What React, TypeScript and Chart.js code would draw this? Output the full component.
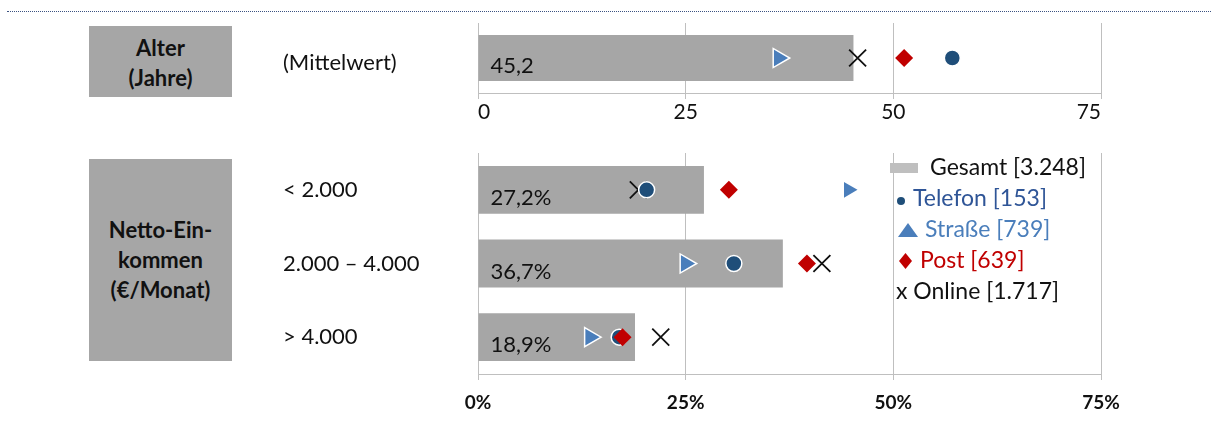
import React, { useEffect, useRef } from "react";
import { Chart, registerables } from "chart.js";

Chart.register(...registerables);

const FONT = "Lato, 'Open Sans', sans-serif";

// Alter (Mittelwert in Jahren)
const ageCategories = ["(Mittelwert)"];
const ageTotal = [45.2];
const ageTelefon = [57.1];
const ageStrasse = [36.2];
const agePost = [51.3];
const ageOnline = [45.7];
const ageTicks = [0, 25, 50, 75];

// Netto-Einkommen (Anteil in %)
const incomeCategories = ["< 2.000", "2.000 – 4.000", "> 4.000"];
const incomeTotal = [27.2, 36.7, 18.9];
const incomeTelefon = [20.3, 30.8, 17.0];
const incomeStrasse = [44.6, 25.0, 13.5];
const incomePost = [30.2, 39.6, 17.4];
const incomeOnline = [19.3, 41.4, 22.0];
const incomeTicks = [0, 25, 50, 75];

// Legend: group names and sample sizes
const groupNames = ["Gesamt", "Telefon", "Straße", "Post", "Online"];
const groupCounts = [3248, 153, 739, 639, 1717];

const GREY_BAR = "#A6A6A6";
const GREY_KEY = "#BFBFBF";
const GRID = "#BFBFBF";
const TEL = "#1F4E79";
const TEL_TEXT = "#2F5597";
const STR = "#4A7EBB";
const POST = "#C00000";
const INK = "#111111";

const thousands = (n: number) => String(n).replace(/\B(?=(\d{3})+(?!\d))/g, ".");
const decimal = (v: number) => v.toFixed(1).replace(".", ",");

// Value text inside each grey bar, drawn right after the bars so markers stay on top
function barValueLabels(format: (v: number) => string) {
  return {
    id: "barValueLabels",
    afterDatasetDraw(chart: any, args: any) {
      if (args.index !== 0) return;
      const meta = chart.getDatasetMeta(0);
      const data = chart.data.datasets[0].data as number[];
      const ctx = chart.ctx;
      ctx.save();
      ctx.font = `22px ${FONT}`;
      ctx.fillStyle = INK;
      ctx.textBaseline = "middle";
      ctx.textAlign = "left";
      meta.data.forEach((bar: any, i: number) => {
        ctx.fillText(format(data[i]), bar.base + 12, bar.y + 8);
      });
      ctx.restore();
    },
  };
}

// Key with coloured group names and sample sizes
const groupLegend = {
  id: "groupLegend",
  afterDraw(chart: any) {
    const ctx = chart.ctx;
    const x0 = 890;
    const y0 = 28;
    const step = 31;
    const colors = [INK, TEL_TEXT, STR, POST, INK];
    ctx.save();
    ctx.font = `23px ${FONT}`;
    ctx.textBaseline = "middle";
    ctx.textAlign = "left";
    groupNames.forEach((name, i) => {
      const cy = y0 + step * i;
      const label = `${name} [${thousands(groupCounts[i])}]`;
      let tx = x0;
      if (i === 0) {
        ctx.fillStyle = GREY_KEY;
        ctx.fillRect(x0, cy - 5, 28, 10);
        tx = x0 + 40;
      } else if (i === 1) {
        ctx.fillStyle = TEL;
        ctx.beginPath();
        ctx.arc(x0 + 11, cy + 2, 4, 0, Math.PI * 2);
        ctx.fill();
        tx = x0 + 23;
      } else if (i === 2) {
        ctx.fillStyle = STR;
        ctx.beginPath();
        ctx.moveTo(x0 + 8, cy + 7);
        ctx.lineTo(x0 + 28, cy + 7);
        ctx.lineTo(x0 + 18, cy - 7);
        ctx.closePath();
        ctx.fill();
        tx = x0 + 35;
      } else if (i === 3) {
        ctx.fillStyle = POST;
        ctx.beginPath();
        ctx.moveTo(x0 + 15.5, cy - 8);
        ctx.lineTo(x0 + 22, cy);
        ctx.lineTo(x0 + 15.5, cy + 8);
        ctx.lineTo(x0 + 9, cy);
        ctx.closePath();
        ctx.fill();
        tx = x0 + 30;
      } else {
        tx = x0 + 6;
      }
      ctx.fillStyle = colors[i];
      ctx.fillText(i === 4 ? `x ${label}` : label, tx, cy);
    });
    ctx.restore();
  },
};

type BlockSpec = {
  categories: string[];
  total: number[];
  telefon: number[];
  strasse: number[];
  post: number[];
  online: number[];
  ticks: number[];
  tickFormat: (v: number) => string;
  tickFont: any;
  tickAlign: "inner" | "center";
  tickPadding: number;
  xAxisHeight: number;
  paddingTop: number;
  barPercentage: number;
  labelOffset: number;
  strasseRadius: number[];
  strasseBorder: number[];
  barFormat: (v: number) => string;
  withLegend: boolean;
};

const noAxisPadding = (scale: any) => {
  scale.paddingTop = 0;
  scale.paddingBottom = 0;
  scale.paddingLeft = 0;
  scale.paddingRight = 0;
};

function buildConfig(s: BlockSpec): any {
  const markers = (
    label: string,
    data: number[],
    style: string,
    radius: any,
    fill: string,
    border: string,
    borderWidth: any,
    order: number,
    rotation = 0
  ) => ({
    type: "line",
    label,
    data,
    indexAxis: "y",
    showLine: false,
    pointStyle: style,
    pointRadius: radius,
    pointHoverRadius: radius,
    pointBackgroundColor: fill,
    pointBorderColor: border,
    pointBorderWidth: borderWidth,
    pointRotation: rotation,
    order,
  });

  return {
    type: "bar",
    data: {
      labels: s.categories,
      datasets: [
        {
          type: "bar",
          label: groupNames[0],
          data: s.total,
          indexAxis: "y",
          backgroundColor: GREY_BAR,
          barPercentage: s.barPercentage,
          categoryPercentage: 1,
          order: 10,
        },
        markers(groupNames[4], s.online, "crossRot", 12, INK, INK, 1.8, 4),
        markers(groupNames[1], s.telefon, "circle", 8, TEL, "#FFFFFF", 1.5, 3),
        markers(groupNames[2], s.strasse, "triangle", s.strasseRadius, STR, "#FFFFFF", s.strasseBorder, 2, 90),
        markers(groupNames[3], s.post, "rectRot", 9, POST, POST, 0, 1),
      ],
    },
    options: {
      indexAxis: "y",
      responsive: false,
      maintainAspectRatio: false,
      animation: false,
      events: [],
      layout: {
        autoPadding: false,
        padding: { left: 283, right: 112, top: s.paddingTop, bottom: 0 },
      },
      plugins: { legend: { display: false }, tooltip: { enabled: false } },
      scales: {
        x: {
          type: "linear",
          min: s.ticks[0],
          max: s.ticks[s.ticks.length - 1],
          afterBuildTicks: (scale: any) => {
            scale.ticks = s.ticks.map((v) => ({ value: v }));
          },
          afterFit: (scale: any) => {
            scale.height = s.xAxisHeight;
            noAxisPadding(scale);
          },
          grid: { color: GRID, lineWidth: 1, drawTicks: true, tickLength: 6, tickColor: GRID },
          border: { color: GRID, width: 1 },
          ticks: {
            color: INK,
            font: s.tickFont,
            padding: s.tickPadding,
            align: s.tickAlign,
            maxRotation: 0,
            autoSkip: false,
            callback: (v: any) => s.tickFormat(Number(v)),
          },
        },
        y: {
          type: "category",
          afterFit: (scale: any) => {
            scale.width = 195;
            noAxisPadding(scale);
          },
          grid: { display: false },
          border: { display: false },
          ticks: {
            crossAlign: "far",
            color: INK,
            font: { family: FONT, size: 22 },
            padding: 0,
            labelOffset: s.labelOffset,
          },
        },
      },
    },
    plugins: s.withLegend ? [barValueLabels(s.barFormat), groupLegend] : [barValueLabels(s.barFormat)],
  };
}

const ageSpec: BlockSpec = {
  categories: ageCategories,
  total: ageTotal,
  telefon: ageTelefon,
  strasse: ageStrasse,
  post: agePost,
  online: ageOnline,
  ticks: ageTicks,
  tickFormat: (v) => String(v),
  tickFont: { family: FONT, size: 21 },
  tickAlign: "inner",
  tickPadding: 1,
  xAxisHeight: 42,
  paddingTop: 8,
  barPercentage: 0.66,
  labelOffset: 5,
  strasseRadius: [11],
  strasseBorder: [1.5],
  barFormat: decimal,
  withLegend: false,
};

const incomeSpec: BlockSpec = {
  categories: incomeCategories,
  total: incomeTotal,
  telefon: incomeTelefon,
  strasse: incomeStrasse,
  post: incomePost,
  online: incomeOnline,
  ticks: incomeTicks,
  tickFormat: (v) => `${v}%`,
  tickFont: { family: FONT, size: 19, weight: "bold" },
  tickAlign: "center",
  tickPadding: 11,
  xAxisHeight: 56,
  paddingTop: 13,
  barPercentage: 0.65,
  labelOffset: 0,
  strasseRadius: [9, 11, 11],
  strasseBorder: [0, 1.5, 1.5],
  barFormat: (v) => `${decimal(v)}%`,
  withLegend: true,
};

function ChartCanvas({ spec, top, height }: { spec: BlockSpec; top: number; height: number }) {
  const ref = useRef<HTMLCanvasElement>(null);
  useEffect(() => {
    const chart = new Chart(ref.current as HTMLCanvasElement, buildConfig(spec));
    return () => chart.destroy();
  }, [spec]);
  return (
    <canvas
      ref={ref}
      width={1213}
      height={height}
      style={{ position: "absolute", left: 0, top, width: 1213, height }}
    />
  );
}

const boxStyle: React.CSSProperties = {
  position: "absolute",
  left: 89,
  width: 143,
  background: GREY_BAR,
  display: "flex",
  flexDirection: "column",
  alignItems: "center",
  justifyContent: "center",
  fontFamily: FONT,
  fontWeight: 700,
  fontSize: 22,
  lineHeight: "30px",
  color: INK,
  textAlign: "center",
};

export default function App() {
  return (
    <div
      style={{
        position: "absolute",
        left: 0,
        top: 0,
        width: 1213,
        height: 430,
        background: "#FFFFFF",
        overflow: "hidden",
        fontFamily: FONT,
      }}
    >
      <div
        style={{
          position: "absolute",
          left: 7,
          top: 11,
          width: 1204,
          borderTop: "1px dotted #3B5281",
        }}
      />
      <div style={{ ...boxStyle, top: 26, height: 71, paddingTop: 3, boxSizing: "border-box" }}>
        <div>Alter</div>
        <div>(Jahre)</div>
      </div>
      <div style={{ ...boxStyle, top: 159, height: 202 }}>
        <div>Netto-Ein-</div>
        <div>kommen</div>
        <div>(€/Monat)</div>
      </div>
      <ChartCanvas spec={ageSpec} top={15} height={120} />
      <ChartCanvas spec={incomeSpec} top={140} height={290} />
    </div>
  );
}
